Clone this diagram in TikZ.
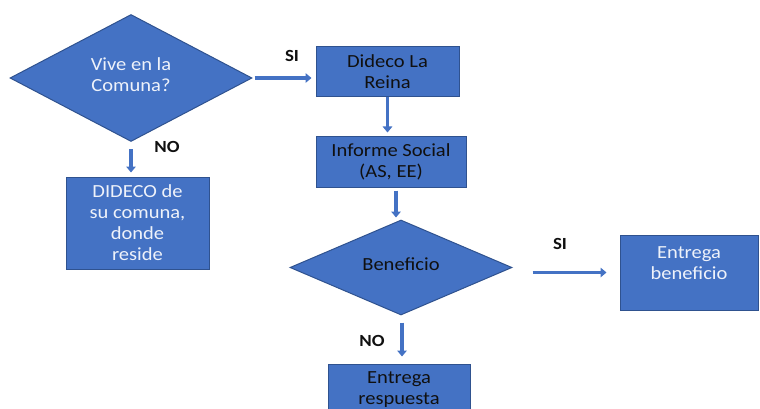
\documentclass[tikz,border=0pt]{standalone}
\usepackage{fontspec}
\setmainfont{Carlito}[FakeStretch=1.11]
\usetikzlibrary{shapes.geometric,arrows.meta}
\definecolor{ofill}{HTML}{4472C4}
\definecolor{oline}{HTML}{2F528F}
\definecolor{wtxt}{HTML}{EEF2FA}
\definecolor{dtxt}{HTML}{101010}
\tikzset{
  shapebase/.style={fill=ofill, draw=oline, line width=1pt, inner sep=0pt, align=center,
     font=\fontsize{18.5}{21}\selectfont},
  boxnode/.style={shapebase, rectangle},
  dianode/.style={shapebase, diamond, aspect=2},
  whitet/.style={text=wtxt},
  darkt/.style={text=dtxt},
  plaintext/.style={inner sep=0pt, align=center, font=\fontsize{18.5}{21}\selectfont},
  lbl/.style={inner sep=0pt, text=dtxt, font=\fontsize{17}{19}\selectfont\bfseries},
  arr/.style={draw=ofill, line width=3.4pt, -{Triangle[length=6pt,width=9.5pt]}}
}
\begin{document}
\begin{tikzpicture}[x=1pt,y=-1pt]
\fill[white] (0,0) rectangle (760,409);
\useasboundingbox (0,0) rectangle (760,409);
\clip (0,0) rectangle (760,409);

% nodes
\node[dianode, minimum width=242pt, minimum height=127pt] (d1) at (131,78) {};
\node[plaintext, whitet] (d1t) at (131,75) {Vive en la\\Comuna?};

\node[boxnode, darkt, minimum width=143pt, minimum height=50pt] (b1) at (387.5,72) {Dideco La\\Reina};
\node[boxnode, darkt, minimum width=150pt, minimum height=50pt] (b2) at (391,162) {Informe Social\\(AS, EE)};
\node[boxnode, whitet, minimum width=143pt, minimum height=92pt] (b3) at (137.5,223) {DIDECO de\\su comuna,\\donde\\reside};

\node[dianode, minimum width=222pt, minimum height=95pt] (d2) at (401,267.5) {};
\node[plaintext, darkt] (d2t) at (401,264) {Beneficio};

\node[boxnode, minimum width=138pt, minimum height=75pt] (b4) at (689,272.5) {};
\node[plaintext, whitet] (b4t) at (689,263) {Entrega\\beneficio};

\node[boxnode, darkt, minimum width=142pt, minimum height=58pt] (b5) at (399,393) {};
\node[plaintext, darkt] (b5t) at (399,390) {Entrega\\respuesta};

% labels
\node[lbl] (l1) at (292,56) {SI};
\node[lbl] (l2) at (167,147) {NO};
\node[lbl] (l3) at (560,244) {SI};
\node[lbl] (l4) at (372,341) {NO};

% connectors
\draw[arr, shorten <=2pt, shorten >=4pt] (d1.east) -- (d1.east -| b1.west);
\draw[arr, shorten >=4pt] (b1.south) -- (b1.south |- b2.north);
\draw[arr, shorten <=7pt, shorten >=4pt] (d1.south) -- (d1.south |- b3.north);
\draw[arr, shorten <=3pt, shorten >=2pt] ([xshift=5pt]b2.south) -- ([xshift=-5pt]d2.north);
\draw[arr, shorten <=7pt, shorten >=7pt] ([xshift=1pt]d2.south) -- ([xshift=1pt]d2.south |- b5.north);
\draw[arr, shorten <=20pt, shorten >=13pt] (d2.east |- b4.west) -- (b4.west);
\end{tikzpicture}
\end{document}
